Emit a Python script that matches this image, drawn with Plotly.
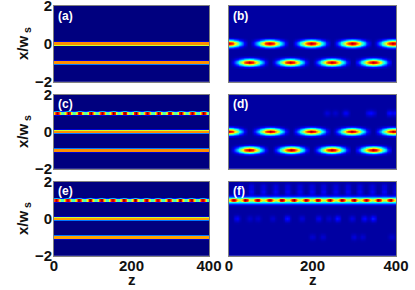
import numpy as np
import plotly.graph_objects as go

# --- values ---
z_ticks = [0, 200, 400]
x_ticks = [-2, 0, 2]
panel_labels = ["(a)", "(b)", "(c)", "(d)", "(e)", "(f)"]
arrow_x = [0, None, 0, None, 1, None]

# steady guided lines in the left panels: (x position, peak level)
lines_a = [(0.0, 0.74), (-1.0, 0.74)]
lines_c = [(0.0, 0.74), (-1.0, 0.74)]
lines_e = [(0.0, 0.72), (-1.0, 0.72)]

# beating line at x=1 in (c) and (e): bright-spot positions along z
spots_c = [9, 38, 67, 96, 125, 154, 183, 212, 241, 270, 299, 328, 357, 386]
spots_e = [7, 36, 65, 94, 123, 152, 181, 210, 239, 268, 297, 326, 355, 384]

# hopping pulses in the right panels: z centres at x=0 and x=-1
upper_b = [0, 98, 198, 296, 393]
lower_b = [50, 148, 247, 346]
upper_d = [0, 100, 198, 295, 394]
lower_d = [50, 150, 247, 346]

# faint specks in (d) near x=1: z, level
specks_d_z = [235, 255, 280, 335, 345, 385, 400]
specks_d_a = [0.05, 0.04, 0.08, 0.07, 0.06, 0.09, 0.09]

# stripe and specks in (f)
spots_f = [12, 40, 69, 98, 127, 156, 185, 213, 242, 271, 300, 329, 358, 387]
specks_f0_z = [20, 50, 70, 105, 140, 175, 215, 240, 260, 295, 325, 345]
specks_f0_a = [0.08, 0.04, 0.04, 0.04, 0.1, 0.05, 0.07, 0.04, 0.1, 0.06, 0.09, 0.11]
specks_f1_z = [200, 225, 300, 320, 390]
specks_f1_a = [0.04, 0.04, 0.05, 0.04, 0.04]

line_off = [-0.13, -0.1, -0.07, 0.07, 0.1, 0.13]
line_flat = [0.0, 0.3, 1.0, 1.0, 0.3, 0.0]
blob_z_off = [-46, -36, -27, -18, -9, 0, 9, 18, 27, 36, 46]
blob_z_lvl = [0.0, 0.12, 0.33, 0.6, 0.88, 1.0, 0.88, 0.6, 0.33, 0.12, 0.0]
blob_x_off = [-0.35, -0.25, -0.15, -0.05, 0.0, 0.05, 0.15, 0.25, 0.35]
blob_x_lvl = [0.0, 0.1, 0.42, 0.9, 1.0, 0.9, 0.42, 0.1, 0.0]
spot_z_off = [-12, -8, -4, 0, 4, 8, 12]
spot_z_lvl = [0.0, 0.3, 0.78, 1.0, 0.78, 0.3, 0.0]

jet = [[0, "#00007f"], [0.11, "#0000ff"], [0.34, "#00ffff"], [0.62, "#ffff00"],
       [0.89, "#ff0000"], [1, "#7f0000"]]

W, H = 415, 290
col_px = [(54, 209), (229, 396)]
row_px = [(6, 82), (95, 169), (182, 256)]

zg = np.arange(0, 401, 2.0)
xg = np.arange(-2, 2.0001, 0.02)


def add(field, zc, xc, amp, zo, zl, xo, xl):
    kz = np.interp(zg - zc, zo, zl, left=0, right=0)
    kx = np.interp(xg - xc, xo, xl, left=0, right=0)
    field += amp * np.outer(kx, kz)


def left_panel(lines, spots=None):
    f = np.zeros((xg.size, zg.size))
    for xc, lvl in lines:
        f += lvl * np.outer(np.interp(xg - xc, line_off, line_flat), np.ones(zg.size))
    if spots is not None:
        f += 0.42 * np.outer(np.interp(xg - 1, line_off, line_flat), np.ones(zg.size))
        for s in spots:
            add(f, s, 1, 0.58, spot_z_off, spot_z_lvl, line_off, line_flat)
    return f


def right_panel(upper, lower):
    f = np.full((xg.size, zg.size), 0.03)
    for c in upper:
        add(f, c, 0, 0.97, blob_z_off, blob_z_lvl, blob_x_off, blob_x_lvl)
    for c in lower:
        add(f, c, -1, 0.97, blob_z_off, blob_z_lvl, blob_x_off, blob_x_lvl)
    return f


f_b = right_panel(upper_b, lower_b)
f_d = right_panel(upper_d, lower_d)
for s, a in zip(specks_d_z, specks_d_a):
    add(f_d, s, 1.0, a, spot_z_off, spot_z_lvl, blob_x_off, blob_x_lvl)

f_f = np.full((xg.size, zg.size), 0.03)
f_f += 0.55 * np.outer(np.interp(xg - 1, blob_x_off, blob_x_lvl), np.ones(zg.size))
for s in spots_f:
    add(f_f, s, 1, 0.42, spot_z_off, spot_z_lvl, line_off, line_flat)
    add(f_f, s + 14, 1.45, 0.08, spot_z_off, spot_z_lvl, blob_x_off, blob_x_lvl)
    add(f_f, s + 14, 1.75, 0.05, spot_z_off, spot_z_lvl, blob_x_off, blob_x_lvl)
for s, a in zip(specks_f0_z, specks_f0_a):
    add(f_f, s, 0, a, spot_z_off, spot_z_lvl, blob_x_off, blob_x_lvl)
for s, a in zip(specks_f1_z, specks_f1_a):
    add(f_f, s, -1, a, spot_z_off, spot_z_lvl, blob_x_off, blob_x_lvl)

fields = [
    left_panel(lines_a), f_b,
    left_panel(lines_c, spots_c), f_d,
    left_panel(lines_e, spots_e), f_f,
]

fig = go.Figure()
font = "Liberation Sans"
tick_font = dict(family=font, size=15, color="#111111", weight=700)
title_font = dict(family=font, size=15, color="#111111", weight=700)
for i, f in enumerate(fields):
    r, c = i // 2, i % 2
    ax = "" if i == 0 else str(i + 1)
    fig.add_trace(go.Heatmap(x=zg, y=xg, z=np.round(f, 3).tolist(), zmin=0, zmax=1,
                             colorscale=jet, showscale=False, xaxis="x" + ax, yaxis="y" + ax,
                             hoverinfo="skip"))
    x0, x1 = col_px[c]
    y0, y1 = row_px[r]
    common = dict(showline=True, linecolor="#808080", linewidth=1, mirror=True, ticks="",
                  showgrid=False, zeroline=False, automargin=False, tickfont=tick_font,
                  ticklabeloverflow="allow")
    fig.layout["xaxis" + ax] = dict(
        common, domain=[x0 / W, x1 / W], range=[0, 400], anchor="y" + ax,
        tickvals=z_ticks, showticklabels=(r == 2), ticklen=0, ticklabelstandoff=-4)
    fig.layout["yaxis" + ax] = dict(
        common, domain=[1 - y1 / H, 1 - y0 / H], range=[-2, 2], anchor="x" + ax,
        tickvals=x_ticks, showticklabels=(c == 0), ticklabelstandoff=-2)
    fig.add_annotation(xref="x" + ax + " domain", yref="y" + ax + " domain", x=0.02, y=0.98,
                       xanchor="left", yanchor="top", text="<b>%s</b>" % panel_labels[i],
                       showarrow=False, font=dict(family=font, size=12, color="white"),
                       borderpad=0)
    if arrow_x[i] is not None:
        fig.add_trace(go.Scatter(x=[-8], y=[arrow_x[i]], mode="markers", cliponaxis=False,
                                 xaxis="x" + ax, yaxis="y" + ax, hoverinfo="skip",
                                 marker=dict(symbol="triangle-right", size=9, color="#2e8b6e")))
    if c == 0:
        fig.add_annotation(xref="paper", yref="y" + ax + " domain", x=23 / W, y=0.5,
                           xanchor="center", yanchor="middle", textangle=-90,
                           text="x/w<sub> s</sub>", showarrow=False, font=title_font)
    if r == 2:
        fig.add_annotation(xref="x" + ax + " domain", yref="paper", x=0.5, y=1 - 279 / H,
                           xanchor="center", yanchor="middle",
                           text="z", showarrow=False, font=title_font)

fig.update_layout(width=W, height=H, margin=dict(l=0, r=0, t=0, b=0), showlegend=False,
                  paper_bgcolor="white", plot_bgcolor="white",
                  font=dict(family=font, size=14, color="#111111"))
fig.write_html("out.html", config=dict(displayModeBar=False),
               post_script="document.body.style.margin='0';")
